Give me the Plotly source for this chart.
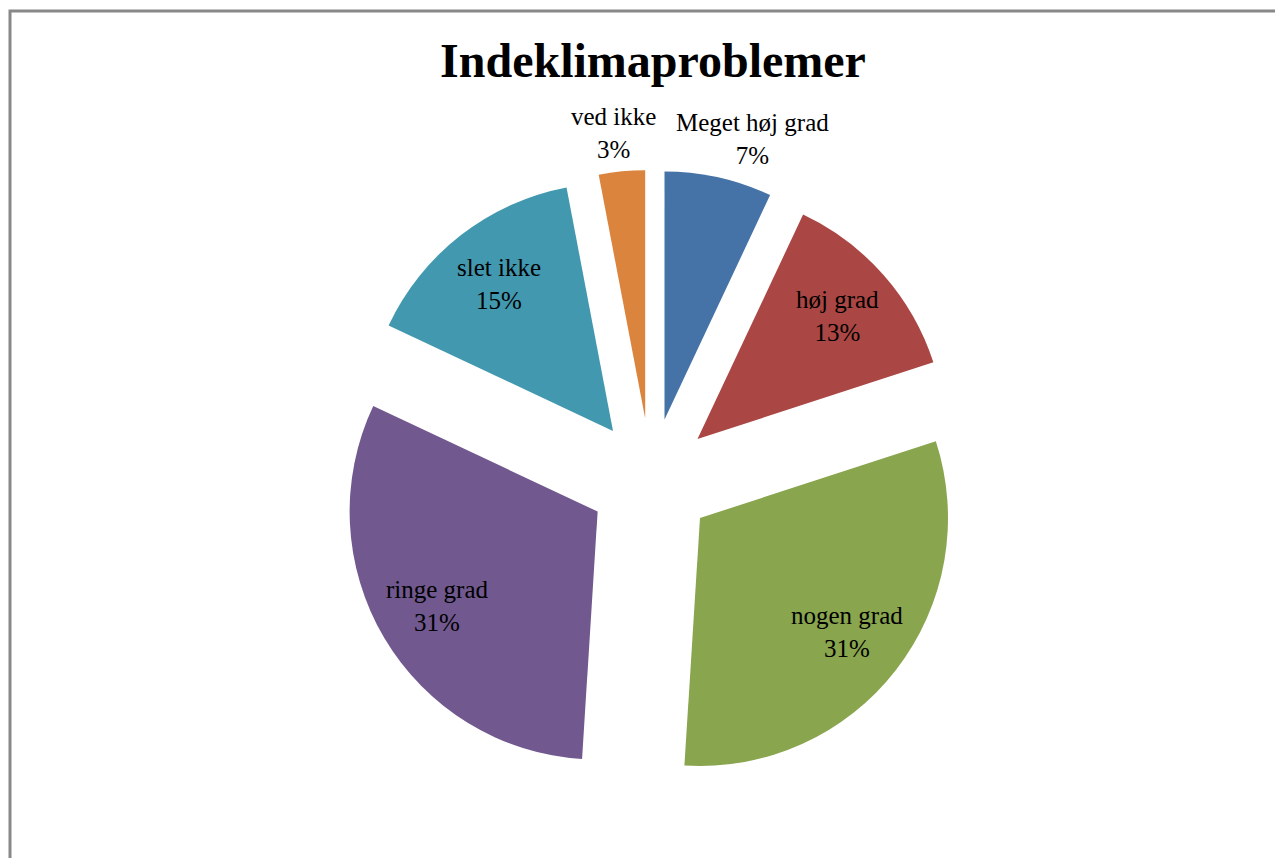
import math
import plotly.graph_objects as go

labels = ["Meget høj grad", "høj grad", "nogen grad", "ringe grad", "slet ikke", "ved ikke"]
values = [7, 13, 31, 31, 15, 3]
colors = ["#4572A7", "#AA4643", "#89A54E", "#71588F", "#4198AF", "#DB843D"]
label_outside = [True, False, False, False, False, True]
title_text = "Indeklimaproblemer"

W, H = 1283, 858
OFF = 8  # page body margin offset
PULL = 0.25
FS = 25
cx, cy, half = 651 - OFF, 480 - OFF, 310
R = half / (1 + PULL)

fig = go.Figure(go.Pie(
    labels=labels,
    values=values,
    sort=False,
    direction="clockwise",
    rotation=0,
    pull=[PULL] * len(values),
    marker=dict(colors=colors, line=dict(width=0)),
    textinfo="none",
    showlegend=False,
    automargin=False,
    hoverinfo="label+percent",
    domain=dict(x=[(cx - half) / W, (cx + half) / W],
                y=[1 - (cy + half) / H, 1 - (cy - half) / H]),
))

# data labels placed like Excel's best-fit labels, derived from the values
total = sum(values)
inside_labels, outside_labels = [], []
cum = 0
for lab, v, outside in zip(labels, values, label_outside):
    mid = (cum + v / 2) / total * 2 * math.pi
    cum += v
    ux, uy = math.sin(mid), -math.cos(mid)
    tipx, tipy = cx + PULL * R * ux, cy + PULL * R * uy
    text = f"{lab}<br>{round(v / total * 100)}%"
    if outside:
        width = 0.45 * FS * max(len(lab), 3)
        outside_labels.append(dict(x=tipx + R * ux, y=tipy + R * uy - 6, w=width, text=text))
    else:
        inside_labels.append(dict(x=tipx + 0.75 * R * ux, y=tipy + 0.75 * R * uy, text=text))

# resolve overlaps between outside labels (push apart horizontally)
outside_labels.sort(key=lambda d: d["x"])
GAP = 16
for a, b in zip(outside_labels, outside_labels[1:]):
    overlap = (a["x"] + a["w"] / 2 + GAP) - (b["x"] - b["w"] / 2)
    if overlap > 0:
        a["x"] -= 0.2 * overlap
        b["x"] += 0.8 * overlap

annotations = []
for d in inside_labels:
    annotations.append(dict(x=d["x"] / W, y=1 - d["y"] / H, xref="paper", yref="paper",
                            text=d["text"], showarrow=False, xanchor="center", yanchor="middle",
                            font=dict(family="Liberation Serif", size=FS, color="black")))
for d in outside_labels:
    annotations.append(dict(x=d["x"] / W, y=1 - d["y"] / H, xref="paper", yref="paper",
                            text=d["text"], showarrow=False, xanchor="center", yanchor="bottom",
                            font=dict(family="Liberation Serif", size=FS, color="black")))

fig.update_layout(
    width=W, height=H,
    margin=dict(l=0, r=0, t=0, b=0, pad=0, autoexpand=False),
    paper_bgcolor="white",
    plot_bgcolor="white",
    title=dict(text=f"<b>{title_text}</b>", x=(653 - OFF) / W, xanchor="center",
               yref="container", y=1 - (60 - OFF) / H, yanchor="middle",
               automargin=False,
               font=dict(family="Liberation Serif", size=48, color="black")),
    annotations=annotations,
    shapes=[dict(type="rect", xref="paper", yref="paper",
                 x0=(10 - OFF) / W, x1=1.05, y0=-0.05, y1=1 - (11 - OFF) / H,
                 line=dict(color="#888888", width=3), layer="below")],
)

fig.write_html("out.html")
